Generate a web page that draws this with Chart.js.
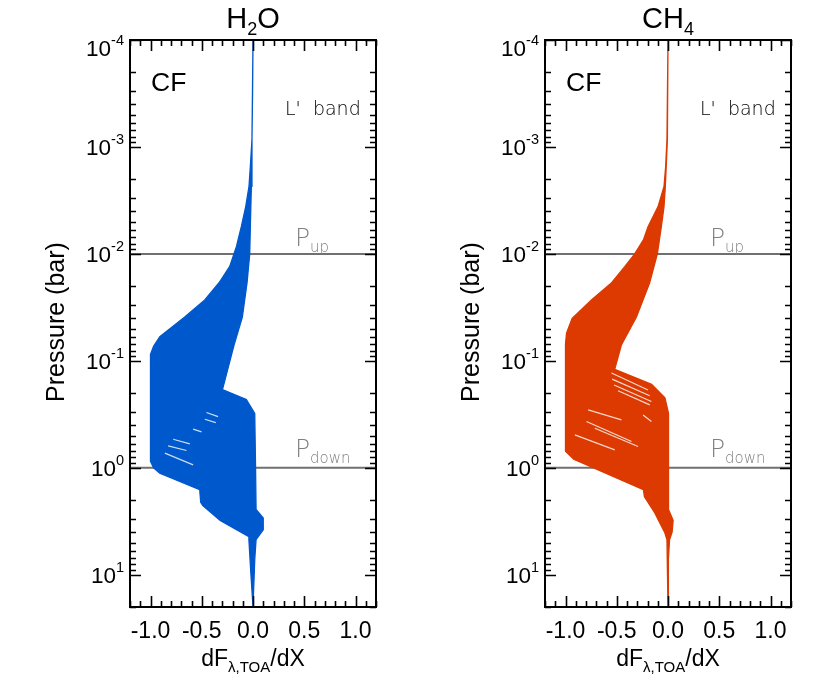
<!DOCTYPE html>
<html>
<head>
<meta charset="utf-8">
<script src="https://cdn.jsdelivr.net/npm/chart.js@4.4.1/dist/chart.umd.min.js"></script>
<style>
  body { margin: 0; background: #fff; }
  #wrap { display: flex; width: 830px; height: 691px; }
  canvas { display: block; }
</style>
</head>
<body>
<div id="wrap">
  <canvas id="c1" width="415" height="691"></canvas>
  <canvas id="c2" width="415" height="691"></canvas>
</div>
<script>
// envelope of the curve bundle (x = dF/dX, p = pressure in bar)
const h2oLeftX  = [0.0, -0.004, -0.01, -0.026, -0.039, -0.071, -0.114, -0.162, -0.227, -0.331, -0.471, -0.666, -0.909, -0.97, -1.0, -1.0, -0.97, -0.91, -0.52, -0.51, -0.49, -0.32, -0.04, -0.04, -0.02, 0.0];
const h2oLeftP  = [1e-4, 3e-4, 8.5e-4, 1.53e-3, 2.34e-3, 3.61e-3, 5.56e-3, 8.55e-3, 1.31e-2, 1.86e-2, 2.69e-2, 3.89e-2, 5.93e-2, 7.3e-2, 8.7e-2, 0.87, 1.0, 1.12, 1.6, 2.1, 2.25, 3.1, 4.4, 4.7, 10, 20];
const h2oRightX = [0.0, -0.01, -0.016, -0.026, -0.032, -0.058, -0.104, -0.14, -0.185, -0.298, -0.065, 0.017, 0.025, 0.03, 0.1, 0.1, 0.03, 0.017, 0.0];
const h2oRightP = [1e-4, 8.5e-4, 2.34e-3, 5.56e-3, 1e-2, 1.86e-2, 3.89e-2, 5.1e-2, 7.1e-2, 0.186, 0.23, 0.31, 1.0, 2.45, 2.95, 3.8, 4.7, 7.2, 20];

const ch4LeftX  = [0.0, -0.01, -0.023, -0.039, -0.097, -0.195, -0.24, -0.325, -0.42, -0.55, -0.747, -0.935, -0.99, -1.0, -1.0, -0.92, -0.24, -0.23, -0.13, -0.03, -0.01, -0.005, 0.0];
const ch4LeftP  = [1e-4, 8.5e-4, 1.53e-3, 2.34e-3, 3.61e-3, 5.56e-3, 7.4e-3, 1e-2, 1.31e-2, 1.86e-2, 2.69e-2, 4.0e-2, 5.5e-2, 7e-2, 0.7, 0.83, 1.6, 1.86, 2.63, 4.07, 4.7, 10, 20];
const ch4RightX = [0.0, -0.006, -0.026, -0.039, -0.065, -0.104, -0.179, -0.308, -0.455, -0.52, -0.16, -0.03, 0.005, 0.005, 0.05, 0.04, 0.015, 0.008, 0.003, 0.0];
const ch4RightP = [1e-4, 8.5e-4, 2.34e-3, 3.61e-3, 5.56e-3, 1e-2, 1.86e-2, 3.89e-2, 7.1e-2, 0.12, 0.166, 0.221, 0.31, 2.45, 3.1, 4.0, 4.7, 7.2, 12, 20];

// thin white gaps between neighbouring curves: [x1, p1, x2, p2]
const h2oGaps = [
  [-0.454, 0.304, -0.341, 0.332],
  [-0.47, 0.351, -0.363, 0.378],
  [-0.584, 0.435, -0.502, 0.461],
  [-0.779, 0.54, -0.616, 0.597],
  [-0.828, 0.623, -0.649, 0.689],
  [-0.86, 0.729, -0.584, 0.938],
];
const ch4Gaps = [
  [-0.551, 0.130, -0.195, 0.187],
  [-0.545, 0.148, -0.178, 0.212],
  [-0.526, 0.168, -0.162, 0.24],
  [-0.487, 0.19, -0.178, 0.258],
  [-0.779, 0.287, -0.454, 0.356],
  [-0.795, 0.369, -0.356, 0.567],
  [-0.714, 0.426, -0.292, 0.632],
  [-0.909, 0.492, -0.519, 0.679],
  [-0.243, 0.32, -0.162, 0.369],
];

const xTicks = [-1.0, -0.5, 0.0, 0.5, 1.0];
const xTickLabels = ["-1.0", "-0.5", "0.0", "0.5", "1.0"];
const yDecades = [-4, -3, -2, -1, 0, 1];
const pUp = 1e-2;
const pDown = 1.0;

const xMin = -1.2, xMax = 1.2, pMin = 1e-4, pMax = 20;

function pontos(xs, ps) {
  return xs.map((x, i) => ({ x: x, y: ps[i] }));
}

// polygon: left edge going down, right edge coming back up
function contorno(lx, lp, rx, rp) {
  return pontos(lx, lp).concat(pontos(rx, rp).reverse());
}

function escreve(ctx, partes, x, y, align) {
  // partes: [texto, fonte, deslocamento vertical]
  let total = 0;
  partes.forEach(p => { ctx.font = p[1]; total += ctx.measureText(p[0]).width; });
  let cx = align === "center" ? x - total / 2 : align === "right" ? x - total : x;
  partes.forEach(p => {
    ctx.font = p[1];
    ctx.fillText(p[0], cx, y + p[2]);
    cx += ctx.measureText(p[0]).width;
  });
}

const SANS = "'Liberation Sans', Arial, sans-serif";
const LIGHT = "'DejaVu Sans', sans-serif";

const moldura = {
  id: "moldura",
  afterDraw(chart) {
    const ctx = chart.ctx;
    const a = chart.chartArea;
    const sx = chart.scales.x, sy = chart.scales.y;
    const o = chart.options.plugins.moldura;
    ctx.save();
    ctx.strokeStyle = "#000";
    ctx.lineWidth = 1.6;
    // x ticks (inward, bottom and top)
    for (let k = -12; k <= 12; k++) {
      const v = k / 10;
      const px = Math.round(sx.getPixelForValue(v)) + 0.5;
      const len = k % 5 === 0 ? 11 : 6;
      ctx.beginPath();
      ctx.moveTo(px, a.bottom); ctx.lineTo(px, a.bottom - len);
      ctx.moveTo(px, a.top); ctx.lineTo(px, a.top + len);
      ctx.stroke();
    }
    // y ticks (log, inward, left and right)
    yDecades.forEach(d => {
      for (let m = 1; m <= 9; m++) {
        const v = m * Math.pow(10, d);
        if (v < pMin * 0.999 || v > pMax * 1.001) continue;
        const py = Math.round(sy.getPixelForValue(v)) + 0.5;
        const len = m === 1 ? 11 : 6;
        ctx.beginPath();
        ctx.moveTo(a.left, py); ctx.lineTo(a.left + len, py);
        ctx.moveTo(a.right, py); ctx.lineTo(a.right - len, py);
        ctx.stroke();
      }
    });
    ctx.lineWidth = 2;
    ctx.strokeRect(a.left, a.top, a.right - a.left, a.bottom - a.top);

    ctx.fillStyle = "#000";
    ctx.textBaseline = "alphabetic";
    // x tick labels
    ctx.textAlign = "center";
    ctx.font = "23px " + SANS;
    xTicks.forEach((v, i) => ctx.fillText(xTickLabels[i], sx.getPixelForValue(v), a.bottom + 31));
    ctx.textAlign = "left";
    // y tick labels 10^n
    yDecades.forEach(d => {
      let py = sy.getPixelForValue(Math.pow(10, d));
      if (d === -4) py += 7;
      escreve(ctx, [["10", "22.5px " + SANS, 0], [String(d), "14.5px " + SANS, -11]], a.left - 6, py + 8.5, "right");
    });
    // axis titles
    const cx = (a.left + a.right) / 2;
    escreve(ctx, [["dF", "23px " + SANS, 0], ["\u03bb,TOA", "15px " + SANS, 6], ["/dX", "23px " + SANS, 0]], cx, a.bottom + 59, "center");
    ctx.save();
    ctx.translate(63.5, 322);
    ctx.rotate(-Math.PI / 2);
    ctx.textAlign = "center";
    ctx.font = "25px " + SANS;
    ctx.fillText("Pressure (bar)", 0, 0);
    ctx.restore();
    // panel title
    escreve(ctx, [[o.titulo[0], "29px " + SANS, 0], [o.titulo[1], "18px " + SANS, 7], [o.titulo[2], "29px " + SANS, 0]], cx, 28, "center");
    // annotations
    ctx.font = "26.5px " + SANS;
    ctx.fillText("CF", a.left + 21, 91);
    ctx.font = "200 19px " + LIGHT;
    ctx.fillText("L'  band", a.left + 155, 115);
    ctx.fillStyle = "#808080";
    const yu = sy.getPixelForValue(pUp), yd = sy.getPixelForValue(pDown);
    escreve(ctx, [["P", "200 25px " + LIGHT, 0], ["up", "200 15px " + LIGHT, 6]], a.left + 165, yu - 8, "left");
    escreve(ctx, [["P", "200 25px " + LIGHT, 0], ["down", "200 15px " + LIGHT, 5.5]], a.left + 165, yd - 10.5, "left");
    ctx.restore();
  }
};

function painel(id, cor, lx, lp, rx, rp, gaps, titulo) {
  const datasets = [
    {
      data: contorno(lx, lp, rx, rp),
      borderColor: cor,
      backgroundColor: cor,
      borderWidth: 1.3,
      fill: "shape",
      pointRadius: 0,
      tension: 0,
      order: 3,
    },
    {
      data: [{ x: xMin, y: pUp }, { x: xMax, y: pUp }],
      borderColor: "#707070",
      borderWidth: 2,
      pointRadius: 0,
      fill: false,
      order: 4,
    },
    {
      data: [{ x: xMin, y: pDown }, { x: xMax, y: pDown }],
      borderColor: "#707070",
      borderWidth: 2,
      pointRadius: 0,
      fill: false,
      order: 4,
    },
  ];
  gaps.forEach(g => {
    datasets.push({
      data: [{ x: g[0], y: g[1] }, { x: g[2], y: g[3] }],
      borderColor: "rgba(255,255,255,0.8)",
      borderWidth: 1.2,
      pointRadius: 0,
      fill: false,
      order: 1,
    });
  });
  return new Chart(document.getElementById(id), {
    type: "line",
    data: { datasets: datasets },
    options: {
      responsive: false,
      animation: false,
      events: [],
      layout: { padding: { left: 130, right: 39, top: 40, bottom: 84 } },
      scales: {
        x: { type: "linear", min: xMin, max: xMax, display: false },
        y: { type: "logarithmic", min: pMin, max: pMax, reverse: true, display: false },
      },
      plugins: {
        legend: { display: false },
        tooltip: { enabled: false },
        moldura: { titulo: titulo },
      },
    },
    plugins: [moldura],
  });
}

painel("c1", "#0058cd", h2oLeftX, h2oLeftP, h2oRightX, h2oRightP, h2oGaps, ["H", "2", "O"]);
painel("c2", "#dc3a00", ch4LeftX, ch4LeftP, ch4RightX, ch4RightP, ch4Gaps, ["CH", "4", ""]);
</script>
</body>
</html>
